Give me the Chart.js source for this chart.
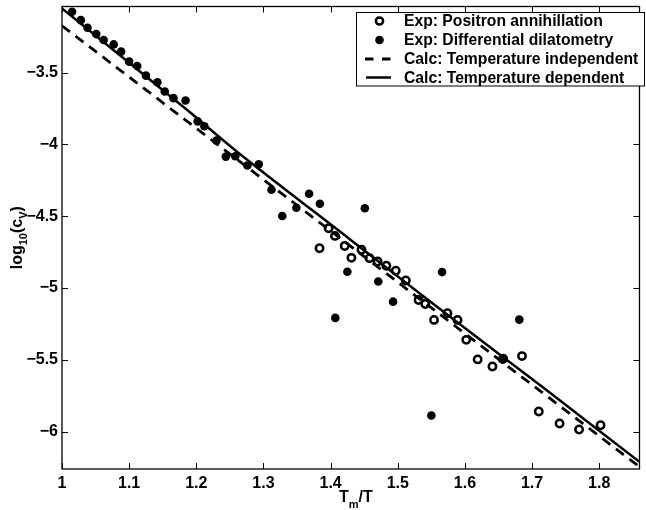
<!DOCTYPE html>
<html>
<head>
<meta charset="utf-8">
<script src="https://cdn.jsdelivr.net/npm/chart.js@4.4.0/dist/chart.umd.min.js"></script>
<style>
  html, body { margin: 0; padding: 0; background: #fff; }
  #wrap { width: 646px; height: 510px; }
</style>
</head>
<body>
<div id="wrap"><canvas id="chart" width="646" height="510"></canvas></div>
<script>
// values
const positronX = [1.3835, 1.397, 1.4065, 1.421, 1.431, 1.446, 1.458, 1.470, 1.483, 1.497, 1.512,
  1.531, 1.541, 1.554, 1.574, 1.589, 1.602, 1.619, 1.641, 1.657, 1.685, 1.710, 1.741, 1.770, 1.802];
const positronY = [-4.723, -4.584, -4.637, -4.707, -4.790, -4.734, -4.792, -4.815, -4.845, -4.880, -4.948,
  -5.083, -5.111, -5.222, -5.176, -5.222, -5.361, -5.497, -5.546, -5.492, -5.474, -5.860, -5.943, -5.985, -5.955];

const dilatoX = [1.015, 1.028, 1.038, 1.051, 1.062, 1.077, 1.088, 1.100, 1.112, 1.125, 1.142, 1.153,
  1.166, 1.184, 1.202, 1.212, 1.230, 1.244, 1.258, 1.276, 1.293, 1.312, 1.328, 1.349, 1.368, 1.384,
  1.407, 1.425, 1.451, 1.471, 1.493, 1.550, 1.566, 1.656, 1.681];
const dilatoY = [-3.077, -3.135, -3.188, -3.232, -3.273, -3.304, -3.354, -3.424, -3.454, -3.521, -3.567, -3.632,
  -3.678, -3.694, -3.840, -3.874, -3.974, -4.085, -4.083, -4.147, -4.138, -4.316, -4.499, -4.441, -4.344, -4.413,
  -5.208, -4.887, -4.445, -4.955, -5.095, -5.888, -4.889, -5.497, -5.220];

const indepX = [1.0, 1.86];
const indepY = [-3.174, -6.245];

const depX = [1.0, 1.186, 1.262, 1.4285, 1.5565, 1.7185, 1.86];
const depY = [-3.054, -3.759, -4.056, -4.660, -5.123, -5.700, -6.210];

const xTicks = [1, 1.1, 1.2, 1.3, 1.4, 1.5, 1.6, 1.7, 1.8];
const yTicks = [-3.5, -4, -4.5, -5, -5.5, -6];

const legendLabels = ['Exp: Positron annihillation', 'Exp: Differential dilatometry',
  'Calc: Temperature independent', 'Calc: Temperature dependent'];

const FONT = '"Liberation Sans", Arial, Helvetica, sans-serif';

function pts(xs, ys) { return xs.map((x, i) => ({ x: x, y: ys[i] })); }
function fmt(v) { return String(v).replace('-', '\u2212'); }

// box, inward ticks on all four sides, axis titles, legend
const decorations = {
  id: 'decorations',
  afterDraw(chart) {
    const ctx = chart.ctx;
    const a = chart.chartArea;
    const xs = chart.scales.x, ys = chart.scales.y;
    const tl = 6;
    ctx.save();
    ctx.strokeStyle = '#000';
    ctx.lineWidth = 1.3;
    ctx.strokeRect(a.left, a.top, a.right - a.left, a.bottom - a.top);
    ctx.lineWidth = 1;
    ctx.beginPath();
    xTicks.forEach(v => {
      const px = Math.round(xs.getPixelForValue(v)) + 0.5;
      ctx.moveTo(px, a.bottom); ctx.lineTo(px, a.bottom - tl);
      ctx.moveTo(px, a.top); ctx.lineTo(px, a.top + tl);
    });
    yTicks.forEach(v => {
      const py = Math.round(ys.getPixelForValue(v)) + 0.5;
      ctx.moveTo(a.left, py); ctx.lineTo(a.left + tl, py);
      ctx.moveTo(a.right, py); ctx.lineTo(a.right - tl, py);
    });
    ctx.stroke();

    // x title T_m/T
    ctx.fillStyle = '#000';
    ctx.textBaseline = 'alphabetic';
    ctx.textAlign = 'left';
    let x0 = 339, base = 502;
    ctx.font = 'bold 16px ' + FONT;
    ctx.fillText('T', x0, base);
    x0 += ctx.measureText('T').width;
    ctx.font = 'bold 11px ' + FONT;
    ctx.fillText('m', x0, base + 6);
    x0 += ctx.measureText('m').width;
    ctx.font = 'bold 16px ' + FONT;
    ctx.fillText('/T', x0, base);

    // y title log10(cV), centred on the plot
    const parts = [['log', 16, 0], ['10', 11, 5], ['(c', 16, 0], ['V', 11, 5], [')', 16, 0]];
    let total = 0;
    parts.forEach(p => { ctx.font = 'bold ' + p[1] + 'px ' + FONT; total += ctx.measureText(p[0]).width; });
    ctx.save();
    ctx.translate(22, (a.top + a.bottom) / 2 + total / 2);
    ctx.rotate(-Math.PI / 2);
    let yx = 0;
    parts.forEach(p => {
      ctx.font = 'bold ' + p[1] + 'px ' + FONT;
      ctx.fillText(p[0], yx, p[2]);
      yx += ctx.measureText(p[0]).width;
    });
    ctx.restore();

    // legend
    const lx = 356.5, ly = 12.5, lw = 288, lh = 73.5;
    ctx.fillStyle = '#fff';
    ctx.fillRect(lx, ly, lw, lh);
    ctx.strokeStyle = '#000';
    ctx.lineWidth = 1;
    ctx.strokeRect(lx, ly, lw, lh);
    const rows = [21, 40, 59, 77.5];
    ctx.font = 'bold 15.7px ' + FONT;
    ctx.fillStyle = '#000';
    ctx.textBaseline = 'middle';
    legendLabels.forEach((t, i) => ctx.fillText(t, 404, rows[i] + 1));
    ctx.lineWidth = 2.5;
    ctx.beginPath(); ctx.arc(379.5, rows[0], 3.6, 0, Math.PI * 2); ctx.stroke();
    ctx.beginPath(); ctx.arc(379.5, rows[1], 4.3, 0, Math.PI * 2); ctx.fill();
    ctx.lineWidth = 2.8;
    ctx.beginPath();
    ctx.moveTo(365, rows[2]); ctx.lineTo(373.5, rows[2]);
    ctx.moveTo(382, rows[2]); ctx.lineTo(390.5, rows[2]);
    ctx.stroke();
    ctx.lineWidth = 2.5;
    ctx.beginPath();
    ctx.moveTo(366, rows[3]); ctx.lineTo(391, rows[3]);
    ctx.stroke();
    ctx.restore();
  }
};

new Chart(document.getElementById('chart'), {
  type: 'scatter',
  data: {
    datasets: [
      {
        label: legendLabels[3],
        data: pts(depX, depY),
        showLine: true,
        borderColor: '#000',
        borderWidth: 2.5,
        pointRadius: 0,
        fill: false,
        tension: 0.3
      },
      {
        label: legendLabels[2],
        data: pts(indepX, indepY),
        showLine: true,
        borderColor: '#000',
        borderWidth: 2.8,
        borderDash: [10, 7],
        pointRadius: 0,
        fill: false
      },
      {
        label: legendLabels[1],
        data: pts(dilatoX, dilatoY),
        pointRadius: 4.3,
        pointBackgroundColor: '#000',
        pointBorderColor: '#000',
        pointBorderWidth: 0
      },
      {
        label: legendLabels[0],
        data: pts(positronX, positronY),
        pointRadius: 3.7,
        pointBackgroundColor: 'rgba(255,255,255,0)',
        pointBorderColor: '#000',
        pointBorderWidth: 2.5
      }
    ]
  },
  options: {
    responsive: false,
    animation: false,
    events: [],
    layout: { padding: { top: 5, right: 1, left: 0, bottom: 0 } },
    plugins: {
      legend: { display: false },
      tooltip: { enabled: false }
    },
    scales: {
      x: {
        type: 'linear',
        min: 1,
        max: 1.86,
        afterBuildTicks: s => { s.ticks = xTicks.map(v => ({ value: v })); },
        afterFit: s => { s.height = 41; s.paddingLeft = 0; s.paddingRight = 0; },
        grid: { display: false, drawTicks: false },
        border: { display: false },
        ticks: {
          padding: 5,
          color: '#000',
          font: { family: FONT, size: 16, weight: 'bold' },
          maxRotation: 0,
          callback: v => fmt(v)
        }
      },
      y: {
        type: 'linear',
        min: -6.26,
        max: -3.04,
        afterBuildTicks: s => { s.ticks = yTicks.map(v => ({ value: v })); },
        afterFit: s => { s.width = 62; s.paddingTop = 0; s.paddingBottom = 0; },
        grid: { display: false, drawTicks: false },
        border: { display: false },
        ticks: {
          padding: 4,
          color: '#000',
          font: { family: FONT, size: 16, weight: 'bold' },
          callback: v => fmt(v)
        }
      }
    }
  },
  plugins: [decorations]
});
</script>
</body>
</html>
